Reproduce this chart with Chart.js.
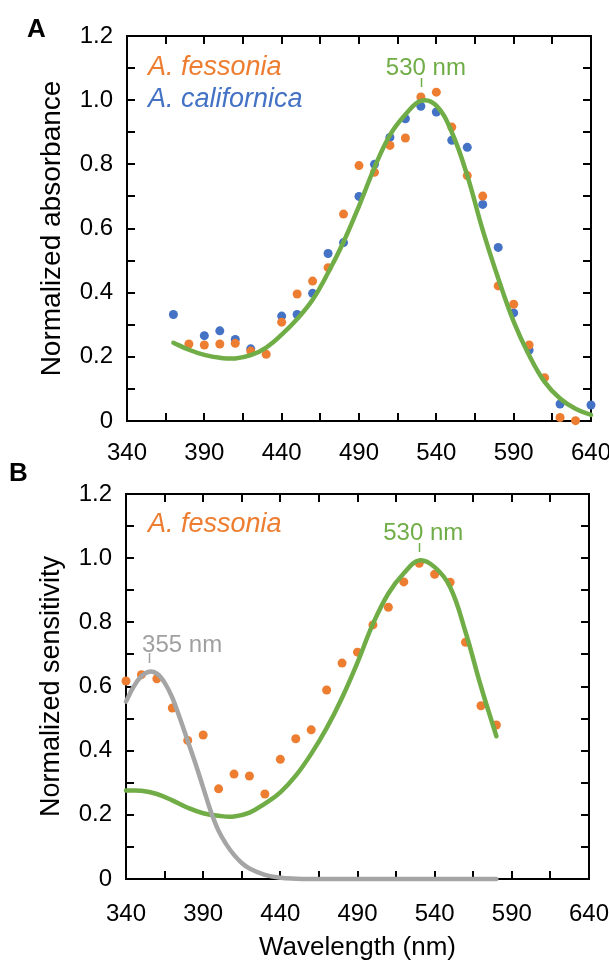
<!DOCTYPE html>
<html><head><meta charset="utf-8">
<script src="https://cdn.jsdelivr.net/npm/chart.js@4.4.0/dist/chart.umd.min.js"></script>
<style>
html,body{margin:0;padding:0;background:#fff;}
body{width:609px;height:961px;position:relative;overflow:hidden;}
canvas{position:absolute;left:0;}
#ca{top:0;}
#cb{top:440px;}
</style></head><body>
<canvas id="ca" width="609" height="470"></canvas>
<canvas id="cb" width="609" height="521"></canvas>
<script>
// ---------- axis ticks ----------
const xTickValues = [340, 390, 440, 490, 540, 590, 640];
const xMinorTickValues = [340, 365, 390, 415, 440, 465, 490, 515, 540, 565, 590, 615, 640];
const yTickValues = [0, 0.2, 0.4, 0.6, 0.8, 1.0, 1.2];
const yTickLabels = ['0', '0.2', '0.4', '0.6', '0.8', '1.0', '1.2'];
const yMinorTickValues = [0, 0.1, 0.2, 0.3, 0.4, 0.5, 0.6, 0.7, 0.8, 0.9, 1.0, 1.1, 1.2];

// ---------- Panel A: normalized absorbance ----------
const aFessoniaNm  = [380, 390, 400, 410, 420, 430, 440, 450, 460, 470, 480, 490, 500, 510, 520, 530, 540, 550, 560, 570, 580, 590, 600, 610, 620, 630, 640];
const aFessoniaAbs = [0.240, 0.237, 0.240, 0.242, 0.218, 0.208, 0.308, 0.396, 0.436, 0.478, 0.645, 0.796, 0.775, 0.859, 0.882, 1.010, 1.025, 0.916, 0.765, 0.701, 0.421, 0.364, 0.237, 0.135, 0.011, 0.001, -0.061];
const aCalifornicaNm  = [370, 390, 400, 410, 420, 440, 450, 460, 470, 480, 490, 500, 510, 520, 530, 540, 550, 560, 570, 580, 590, 600, 620, 630, 640];
const aCalifornicaAbs = [0.332, 0.266, 0.281, 0.254, 0.225, 0.327, 0.332, 0.398, 0.522, 0.556, 0.700, 0.800, 0.884, 0.942, 0.981, 0.963, 0.875, 0.853, 0.675, 0.541, 0.337, 0.221, 0.053, -0.038, 0.050];
const aTemplateNm  = [370, 380, 390, 400, 410, 420, 430, 440, 450, 460, 470, 480, 490, 500, 510, 520, 530, 540, 550, 560, 570, 580, 590, 600, 610, 620, 630, 640];
const aTemplateAbs = [0.244, 0.222, 0.206, 0.197, 0.195, 0.205, 0.229, 0.269, 0.318, 0.378, 0.462, 0.558, 0.670, 0.790, 0.891, 0.955, 0.998, 0.983, 0.900, 0.765, 0.595, 0.445, 0.310, 0.205, 0.122, 0.070, 0.038, 0.019];

// ---------- Panel B: normalized sensitivity ----------
const bFessoniaNm   = [340, 350, 360, 370, 380, 390, 400, 410, 420, 430, 440, 450, 460, 470, 480, 490, 500, 510, 520, 530, 540, 550, 560, 570, 580];
const bFessoniaSens = [0.617, 0.637, 0.624, 0.533, 0.432, 0.449, 0.281, 0.327, 0.321, 0.265, 0.373, 0.437, 0.465, 0.589, 0.673, 0.707, 0.792, 0.847, 0.926, 0.984, 0.950, 0.925, 0.738, 0.540, 0.480];
const b530Nm   = [340, 350, 360, 370, 380, 390, 400, 410, 420, 430, 440, 450, 460, 470, 480, 490, 500, 510, 520, 530, 540, 550, 560, 570, 580];
const b530Sens = [0.276, 0.275, 0.265, 0.245, 0.222, 0.205, 0.197, 0.195, 0.207, 0.235, 0.270, 0.322, 0.390, 0.470, 0.565, 0.675, 0.795, 0.890, 0.953, 0.993, 0.972, 0.910, 0.770, 0.600, 0.445];
const b355Nm   = [340, 345, 350, 355, 360, 365, 370, 375, 380, 385, 390, 395, 400, 405, 410, 415, 420, 430, 440, 450, 460, 480, 500, 520, 540, 560, 580];
const b355Sens = [0.553, 0.600, 0.632, 0.646, 0.640, 0.612, 0.565, 0.500, 0.430, 0.360, 0.285, 0.210, 0.150, 0.108, 0.075, 0.050, 0.033, 0.013, 0.004, 0.001, 0, 0, 0, 0, 0, 0, 0];

const FONT = "'Liberation Sans', Arial, Helvetica, sans-serif";
const ORANGE = '#ED7D31', BLUE = '#4472C4', GREEN = '#70AD47', GRAY = '#A5A5A5';

function pts(xs, ys) { return xs.map((x, i) => ({x: x, y: ys[i]})); }
function dots(xs, ys, color, order) {
  return {data: pts(xs, ys), backgroundColor: color, borderWidth: 0, pointRadius: 4.5,
          pointHoverRadius: 4.5, showLine: false, clip: false, order: order};
}
function curve(xs, ys, color, order) {
  return {data: pts(xs, ys), borderColor: color, backgroundColor: color, borderWidth: 4.5,
          borderCapStyle: 'round', borderJoinStyle: 'round',
          pointRadius: 0, pointHoverRadius: 0, showLine: true, tension: 0.4,
          clip: false, order: order};
}

function drawFrame(chart) {
  const ctx = chart.ctx;
  const a = chart.chartArea;
  const xs = chart.scales.x, ys = chart.scales.y;
  const L = Math.round(a.left), R = Math.round(a.right), T = Math.round(a.top), B = Math.round(a.bottom);
  ctx.save();
  ctx.globalAlpha = 1;
  ctx.globalCompositeOperation = 'source-over';
  ctx.fillStyle = '#000000';
  xMinorTickValues.forEach(v => {
    const px = Math.round(xs.getPixelForValue(v));
    ctx.fillRect(px - 1, B - 8, 2, 8);
    ctx.fillRect(px - 1, T, 2, 8);
  });
  yMinorTickValues.forEach(v => {
    const py = Math.round(ys.getPixelForValue(v));
    ctx.fillRect(L, py - 1, 8, 2);
    ctx.fillRect(R - 8, py - 1, 8, 2);
  });
  ctx.fillRect(L - 1, T - 1, R - L + 2, 2);
  ctx.fillRect(L - 1, B - 1, R - L + 2, 2);
  ctx.fillRect(L - 1, T - 1, 2, B - T + 2);
  ctx.fillRect(R - 1, T - 1, 2, B - T + 2);
  ctx.restore();
}

function decorPlugin(texts) {
  let framed = false;
  return {
    id: 'decor',
    beforeDraw() { framed = false; },
    beforeDatasetsDraw(chart) { drawFrame(chart); framed = true; },
    afterDraw(chart) {
      if (!framed) drawFrame(chart);
      const ctx = chart.ctx, xs = chart.scales.x;
      ctx.save();
      texts.forEach(t => {
        ctx.font = t.font;
        ctx.fillStyle = t.color;
        ctx.textAlign = t.align || 'left';
        ctx.textBaseline = 'alphabetic';
        const x = (t.atNm !== undefined) ? xs.getPixelForValue(t.atNm) + (t.dx || 0) : t.x;
        ctx.fillText(t.text, x, t.y);
        if (t.tick) {
          ctx.strokeStyle = t.color;
          ctx.lineWidth = 1.5;
          const tx = Math.round(xs.getPixelForValue(t.atNm)) + 0.5;
          ctx.beginPath();
          ctx.moveTo(tx, t.tick[0]); ctx.lineTo(tx, t.tick[1]);
          ctx.stroke();
        }
      });
      ctx.restore();
    }
  };
}

function makeChart(id, area, datasets, yTitle, yTitleSize, xTitle, texts) {
  return new Chart(document.getElementById(id), {
    type: 'scatter',
    data: {datasets: datasets},
    options: {
      responsive: false, animation: false, devicePixelRatio: 1,
      layout: {padding: {left: 0, top: area.top, right: 609 - area.right, bottom: 0}},
      plugins: {legend: {display: false}, tooltip: {enabled: false}},
      events: [],
      scales: {
        x: {
          type: 'linear', position: 'bottom', min: 340, max: 640,
          afterBuildTicks: s => { s.ticks = xTickValues.map(v => ({value: v})); },
          afterFit: s => { s.height = area.H - area.bottom; s.paddingLeft = 0; s.paddingRight = 0; },
          grid: {display: false, drawTicks: false}, border: {display: false},
          ticks: {color: '#000', font: {size: 24, family: FONT}, padding: area.xPad,
                  maxRotation: 0, autoSkip: false, callback: v => String(v)},
          title: xTitle ? {display: true, text: xTitle, color: '#000',
                  font: {size: 26, family: FONT, lineHeight: 1}, padding: {top: 0, bottom: 0}}
                : {display: false}
        },
        y: {
          type: 'linear', position: 'left', min: 0, max: 1.2,
          afterBuildTicks: s => { s.ticks = yTickValues.map(v => ({value: v})); },
          afterFit: s => { s.width = area.left; s.paddingTop = 0; s.paddingBottom = 0; },
          grid: {display: false, drawTicks: false}, border: {display: false},
          ticks: {color: '#000', font: {size: 24, family: FONT}, padding: 14, autoSkip: false,
                  callback: (v, i) => yTickLabels[i]},
          title: {display: true, text: yTitle, color: '#000',
                  font: {size: yTitleSize, family: FONT, lineHeight: 1.2},
                  padding: {top: 52 - yTitleSize * 0.6, bottom: 0}}
        }
      }
    },
    plugins: [decorPlugin(texts)]
  });
}

// Panel A
makeChart('ca', {left: 127, right: 591, top: 36, bottom: 421, H: 470, xPad: 18},
  [curve(aTemplateNm, aTemplateAbs, GREEN, 0),
   dots(aFessoniaNm, aFessoniaAbs, ORANGE, 1),
   dots(aCalifornicaNm, aCalifornicaAbs, BLUE, 2)],
  'Normalized absorbance', 28, null,
  [
    {text: 'A', x: 27, y: 37, font: 'bold 26px ' + FONT, color: '#000'},
    {text: 'A. fessonia', x: 148, y: 75, font: 'italic 27px ' + FONT, color: ORANGE},
    {text: 'A. californica', x: 148, y: 107, font: 'italic 27px ' + FONT, color: BLUE},
    {text: '530 nm', atNm: 530, dx: 5, y: 75, align: 'center', font: '24px ' + FONT, color: GREEN, tick: [78, 87]}
  ]);

// Panel B
makeChart('cb', {left: 126, right: 589, top: 54, bottom: 439, H: 521, xPad: 21},
  [curve(b355Nm, b355Sens, GRAY, 0),
   curve(b530Nm, b530Sens, GREEN, 1),
   dots(bFessoniaNm, bFessoniaSens, ORANGE, 2)],
  'Normalized sensitivity', 27, 'Wavelength (nm)',
  [
    {text: 'B', x: 9, y: 41, font: 'bold 26px ' + FONT, color: '#000'},
    {text: 'A. fessonia', x: 148, y: 92, font: 'italic 27px ' + FONT, color: ORANGE},
    {text: '530 nm', atNm: 530, dx: 4, y: 100, align: 'center', font: '24px ' + FONT, color: GREEN, tick: [103, 112]},
    {text: '355 nm', atNm: 355, dx: 33, y: 212, align: 'center', font: '24px ' + FONT, color: '#A0A0A0', tick: [213, 223]}
  ]);
</script>
</body></html>
